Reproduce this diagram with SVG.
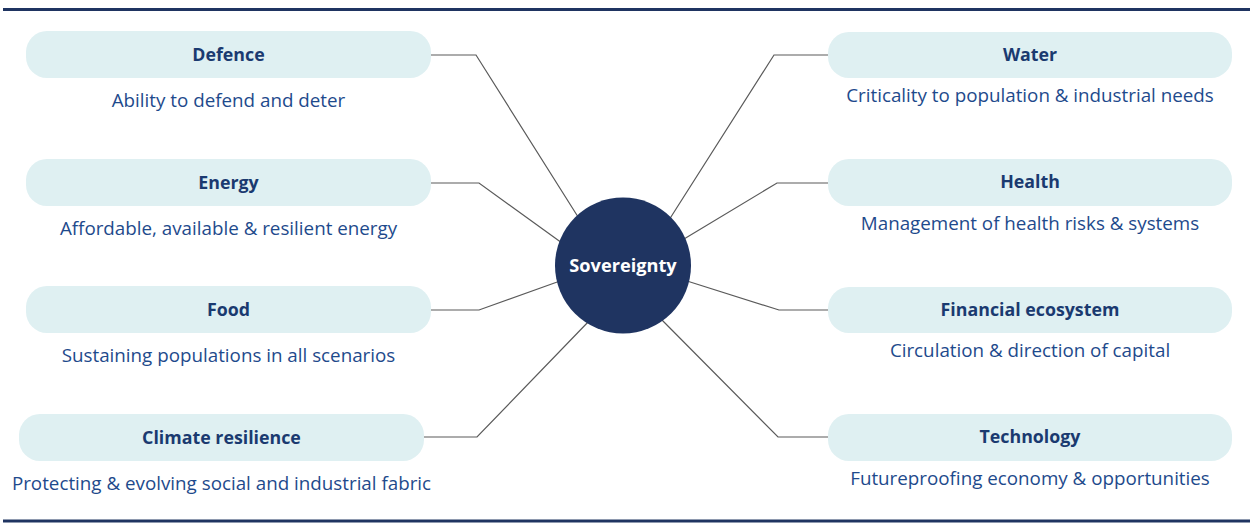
<svg xmlns="http://www.w3.org/2000/svg" width="1255" height="532" viewBox="0 0 1255 532">
<style>
.box{fill:#dff0f2}
.t{font-family:"Open Sans",Lato,sans-serif;font-weight:bold;font-size:17.8px;fill:#1a3a70;text-anchor:middle}
.s{font-family:"Open Sans",Lato,sans-serif;font-size:18.8px;fill:#1e4a8c;text-anchor:middle}
.c{fill:none;stroke:#5a5a5a;stroke-width:1.2}
.bar{fill:#1f3461}
</style>
<rect class="bar" x="3" y="8" width="1247" height="3"/>
<rect class="bar" x="3" y="519.5" width="1247" height="3"/>
<g id="connectors">
<polyline class="c" points="431,55 476,55 580,220"/>
<polyline class="c" points="431,183 479,183 562,243"/>
<polyline class="c" points="431,310 479,310 560,281"/>
<polyline class="c" points="424,437 477,437 590,320"/>
<polyline class="c" points="828,55 774,55 669,220"/>
<polyline class="c" points="828,183 777,183 684,239"/>
<polyline class="c" points="828,310 779,310 687,281"/>
<polyline class="c" points="828,437 778,437 658,316"/>
</g>
<g id="defence"><rect class="box" x="26" y="31" width="405" height="47" rx="21"/><text class="t" x="228.5" y="61">Defence</text><text class="s" x="228.5" y="107">Ability to defend and deter</text></g>
<g id="energy"><rect class="box" x="26" y="159" width="405" height="47" rx="21"/><text class="t" x="228.5" y="189">Energy</text><text class="s" x="228.5" y="235">Affordable, available &amp; resilient energy</text></g>
<g id="food"><rect class="box" x="26" y="286" width="405" height="47" rx="21"/><text class="t" x="228.5" y="316">Food</text><text class="s" x="228.5" y="362">Sustaining populations in all scenarios</text></g>
<g id="climate"><rect class="box" x="19" y="414" width="405" height="47" rx="21"/><text class="t" x="221.5" y="444">Climate resilience</text><text class="s" x="221.5" y="490">Protecting &amp; evolving social and industrial fabric</text></g>
<g id="water"><rect class="box" x="828" y="32" width="404" height="46" rx="21"/><text class="t" x="1030" y="61">Water</text><text class="s" x="1030" y="102">Criticality to population &amp; industrial needs</text></g>
<g id="health"><rect class="box" x="828" y="159" width="404" height="47" rx="21"/><text class="t" x="1030" y="188">Health</text><text class="s" x="1030" y="230">Management of health risks &amp; systems</text></g>
<g id="financial"><rect class="box" x="828" y="287" width="404" height="46" rx="21"/><text class="t" x="1030" y="316">Financial ecosystem</text><text class="s" x="1030" y="357">Circulation &amp; direction of capital</text></g>
<g id="technology"><rect class="box" x="828" y="414" width="404" height="47" rx="21"/><text class="t" x="1030" y="443">Technology</text><text class="s" x="1030" y="485">Futureproofing economy &amp; opportunities</text></g>
<g id="sovereignty"><circle cx="623" cy="265.5" r="68" fill="#1f3461"/><text x="623" y="272" font-family="'Open Sans',Lato,sans-serif" font-weight="bold" font-size="18.2" fill="#ffffff" text-anchor="middle">Sovereignty</text></g>
</svg>
